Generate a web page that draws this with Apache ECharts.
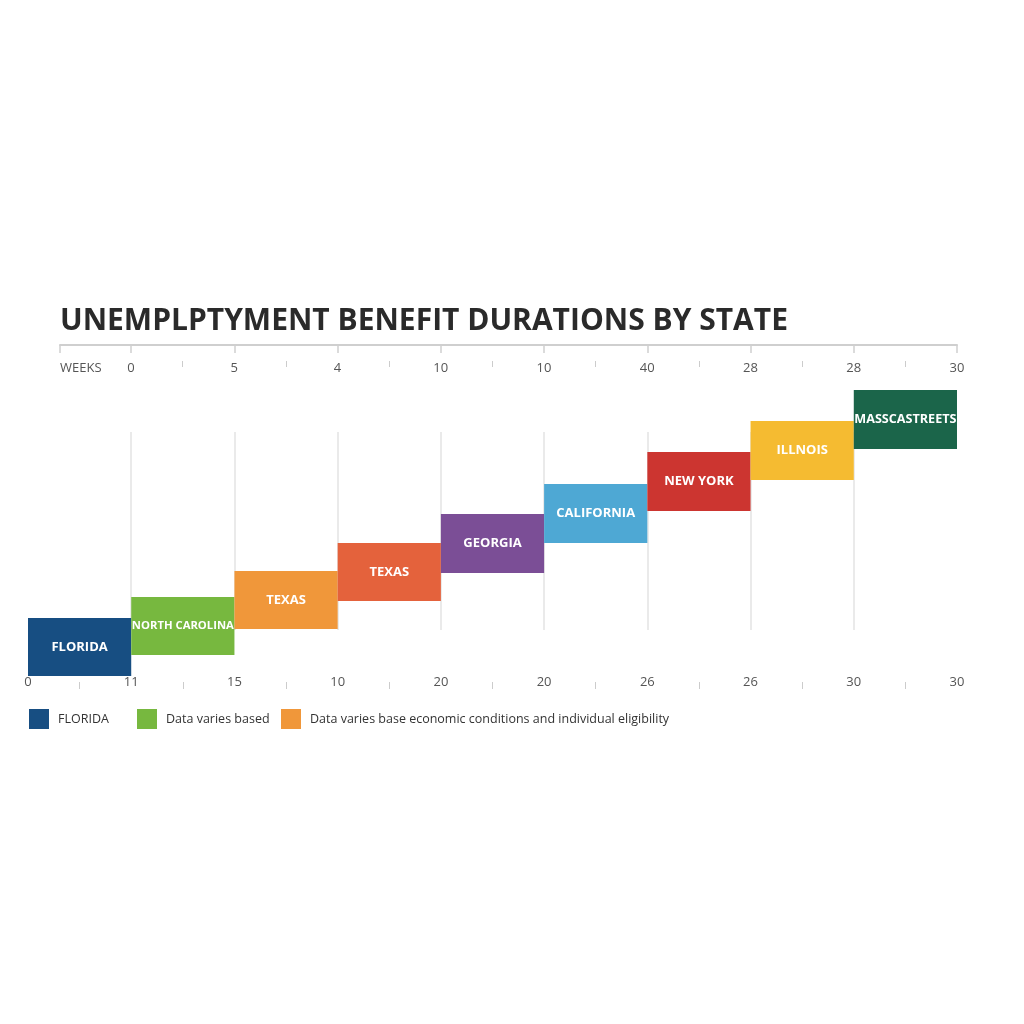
<!DOCTYPE html>
<html>
<head>
<meta charset="utf-8">
<script src="https://cdn.jsdelivr.net/npm/echarts@6/dist/echarts.min.js"></script>
<style>html,body{margin:0;padding:0;background:#fff;}#c{width:1024px;height:1024px;}</style>
</head>
<body>
<div id="c"></div>
<script>
// ---- data ----
const stateNames = ['FLORIDA','NORTH CAROLINA','TEXAS','TEXAS','GEORGIA','CALIFORNIA','NEW YORK','ILLNOIS','MASSCASTREETS'];
const stepLow  = [0, 21, 47, 75, 103, 133, 165, 196, 227];
const stepHigh = [58, 79, 105, 133, 162, 192, 224, 255, 286];
const stepColors = ['#174e82','#77b83f','#f0973a','#e4623c','#7b4e96','#4ea8d4','#cc3530','#f5bb31','#1b654a'];
const topLabels = ['0','5','4','10','10','40','28','28','30'];
const bottomLabels = ['0','11','15','10','20','20','26','26','30','30'];
const legendNames = ['FLORIDA','Data varies based','Data varies base economic conditions and individual eligibility'];
const legendColors = ['#174e82','#77b83f','#f0973a'];
const titleText = 'UNEMPLPTYMENT BENEFIT DURATIONS BY STATE';
const weeksLabel = 'WEEKS';

const FONT = '"Open Sans", "Noto Sans", sans-serif';
const topMin = 1 - (131 - 60) / ((957 - 28) / 9);
const ticksMajor = [topMin, 1, 2, 3, 4, 5, 6, 7, 8, 9];
const ticksMinorTop = [1.5, 2.5, 3.5, 4.5, 5.5, 6.5, 7.5, 8.5];
const ticksMinorBottom = [0.5, 1.5, 2.5, 3.5, 4.5, 5.5, 6.5, 7.5, 8.5];

const measureCtx = document.createElement('canvas').getContext('2d');
function fitFontSize(text, maxWidth, base) {
  measureCtx.font = 'bold ' + base + 'px ' + FONT;
  const w = measureCtx.measureText(text).width;
  return w > maxWidth ? Math.max(10, base * maxWidth / w) : base;
}

const chart = echarts.init(document.getElementById('c'), null, {renderer: 'canvas'});

const legendSeries = legendNames.map((n, i) => ({
  name: n, type: 'bar', data: [], xAxisIndex: 0, yAxisIndex: 0,
  itemStyle: {color: legendColors[i]}
}));

const legendLefts = [29, 137, 281];

chart.setOption({
  backgroundColor: '#fff',
  animation: false,
  title: {
    text: titleText, left: 55, top: 301,
    textStyle: {fontFamily: FONT, fontSize: 30, fontWeight: 'bold', color: '#2a2a2a'}
  },
  legend: legendNames.map((n, i) => ({
    data: [n], left: legendLefts[i], top: 709, itemWidth: 20, itemHeight: 20, icon: 'rect',
    selectedMode: false, padding: 0,
    textStyle: {fontFamily: FONT, fontSize: 12.5, color: '#333', padding: [0, 0, 0, 4]}
  })),
  grid: [
    {left: 28, right: 67, top: 390, bottom: 348},
    {left: 60, right: 67, top: 345, height: 16},
    {left: 28, right: 67, top: 432, bottom: 394}
  ],
  xAxis: [
    { // main: bottom labels
      gridIndex: 0, type: 'value', min: 0, max: 9, interval: 1, position: 'bottom',
      axisLine: {show: false, onZero: false}, axisTick: {show: false}, splitLine: {show: false},
      axisLabel: {margin: 0, fontFamily: FONT, fontSize: 13, color: '#555',
        formatter: v => bottomLabels[Math.round(v)]}
    },
    { // bottom minor ticks
      gridIndex: 0, type: 'value', min: 0, max: 9, position: 'bottom', offset: 6,
      axisLine: {show: false, onZero: false}, splitLine: {show: false}, axisLabel: {show: false},
      axisTick: {show: true, length: 7, customValues: ticksMinorBottom, lineStyle: {color: '#ccc', width: 1}}
    },
    { // top axis line + major ticks
      gridIndex: 1, type: 'value', min: topMin, max: 9, position: 'top',
      axisLine: {show: true, onZero: false, lineStyle: {color: '#cfcfcf', width: 2}},
      axisTick: {show: true, inside: true, length: 8, customValues: ticksMajor, lineStyle: {color: '#cfcfcf', width: 1.5}},
      axisLabel: {show: false}, splitLine: {show: false}
    },
    { // top labels + minor ticks
      gridIndex: 1, type: 'value', min: topMin, max: 9, position: 'bottom',
      axisLine: {show: false, onZero: false}, splitLine: {show: false},
      axisTick: {show: true, length: 6, customValues: ticksMinorTop, lineStyle: {color: '#ccc', width: 1}},
      axisLabel: {show: true, margin: 1, customValues: ticksMajor, alignMinLabel: 'left',
        fontFamily: FONT, fontSize: 13, color: '#555',
        formatter: v => (v < 0.9 ? weeksLabel : topLabels[Math.round(v) - 1])}
    },
    { // vertical grid lines
      gridIndex: 2, type: 'value', min: 0, max: 9, interval: 1,
      axisLine: {show: false, onZero: false}, axisTick: {show: false}, axisLabel: {show: false},
      splitLine: {show: true, showMinLine: false, showMaxLine: false, lineStyle: {color: '#e3e3e3', width: 1.5}}
    }
  ],
  yAxis: [
    {gridIndex: 0, type: 'value', min: 0, max: 286, show: false, splitLine: {show: false}},
    {gridIndex: 1, type: 'value', min: 0, max: 1, show: false, splitLine: {show: false}},
    {gridIndex: 2, type: 'value', min: 0, max: 1, show: false, splitLine: {show: false}}
  ],
  series: [
    {
      name: 'steps', type: 'custom', xAxisIndex: 0, yAxisIndex: 0, z: 5,
      data: stateNames.map((n, i) => [i, stepLow[i], stepHigh[i]]),
      encode: {x: 0, y: [1, 2]},
      renderItem: function (params, api) {
        const i = api.value(0);
        const p0 = api.coord([i, api.value(2)]);
        const p1 = api.coord([i + 1, api.value(1)]);
        const w = p1[0] - p0[0];
        return {
          type: 'rect',
          shape: {x: p0[0], y: p0[1], width: w, height: p1[1] - p0[1]},
          style: {fill: stepColors[i]},
          textContent: {
            style: {text: stateNames[i], fill: '#fff', fontFamily: FONT,
              fontSize: fitFontSize(stateNames[i], w - 1, 13), fontWeight: 'bold'}
          },
          textConfig: {position: 'inside'}
        };
      }
    }
  ].concat(legendSeries)
});
</script>
</body>
</html>
